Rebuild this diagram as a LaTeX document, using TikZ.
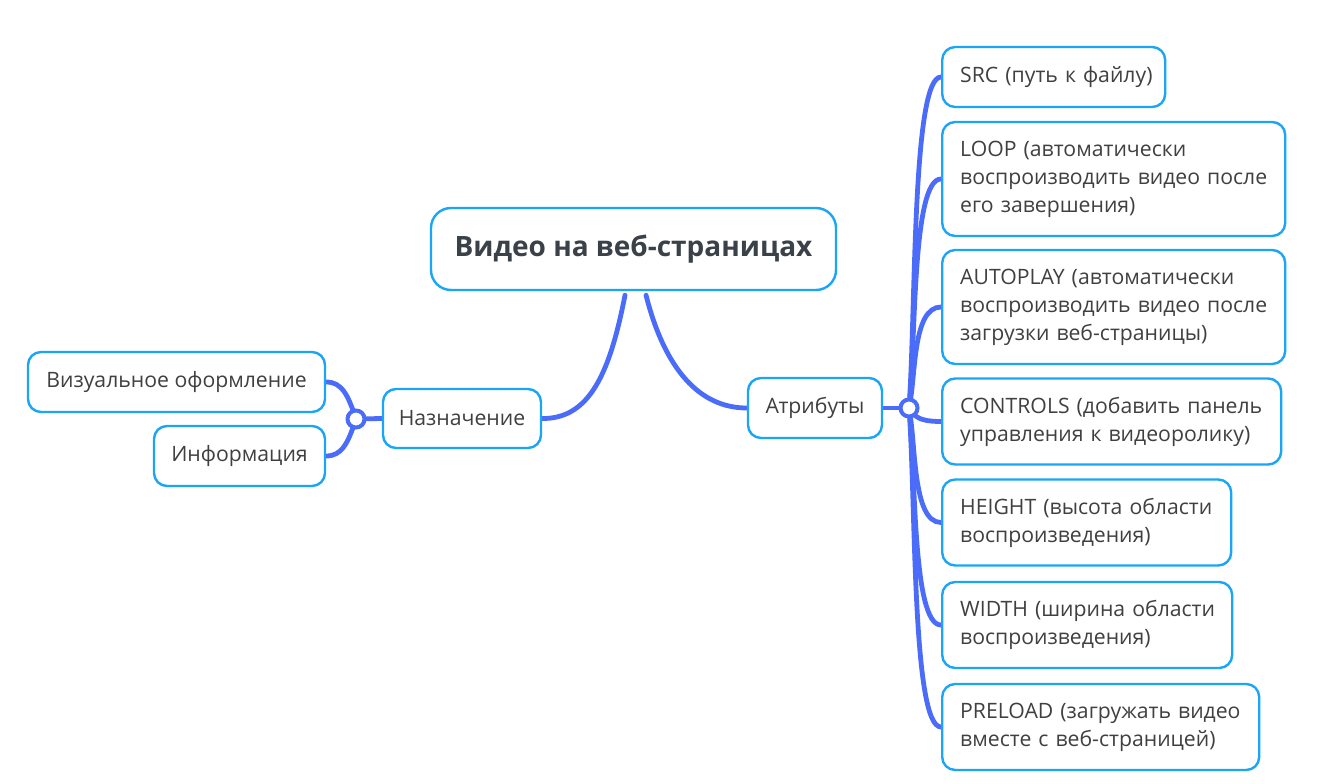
\documentclass[tikz,border=0pt]{standalone}
\usepackage{fontspec}
\setmainfont{Open Sans}
\usetikzlibrary{backgrounds}
\definecolor{boxc}{HTML}{1AA6F5}
\definecolor{linec}{HTML}{4A6CF8}
\definecolor{txt}{HTML}{404040}
\definecolor{ttl}{HTML}{3B4149}
\tikzset{
  box/.style={draw=boxc, line width=2.4pt, rounded corners=13pt, fill=white, text=txt,
    font=\fontsize{21.2}{28}\selectfont, inner xsep=0pt, inner ysep=0pt},
  leaf/.style={box, anchor=west, align=left, inner xsep=18pt, text width=#1},
  conn/.style={draw=linec, line width=4.8pt, line cap=round},
  hub/.style={circle, draw=linec, line width=4pt, fill=white, minimum size=17pt, inner sep=0pt}
}
\begin{document}
\begin{tikzpicture}[x=1pt,y=-1pt]
\useasboundingbox (0,0) rectangle (1330,784);
\node[box, minimum width=405pt, minimum height=82pt, rounded corners=20pt, text=ttl,
  font=\fontsize{28}{34}\selectfont\bfseries] (root) at (633.5,249) {Видео на веб-страницах};
\node[box, minimum width=158pt, minimum height=59pt] (naz) at (462,418.5) {Назначение};
\node[box, minimum width=134pt, minimum height=60pt] (attr) at (815,408) {Атрибуты};
\node[box, minimum width=297pt, minimum height=60pt] (vis) at (176.5,382) {Визуальное оформление};
\node[box, minimum width=171pt, minimum height=60pt] (inf) at (239.5,456) {Информация};
\node[hub] (hl) at (356,419) {};
\node[hub] (hr) at (909,408) {};
\node[leaf=187pt, minimum height=60pt] (src) at (941,77) {\mbox{SRC (путь к файлу)}};
\node[leaf=307pt, minimum height=114pt] (loop) at (941,179) {\mbox{LOOP (автоматически}\\\mbox{воспроизводить видео после}\\\mbox{его завершения)}};
\node[leaf=307pt, minimum height=114pt] (auto) at (941,307) {\mbox{AUTOPLAY (автоматически}\\\mbox{воспроизводить видео после}\\\mbox{загрузки веб-страницы)}};
\node[leaf=303pt, minimum height=86pt] (ctrl) at (941,421.5) {\mbox{CONTROLS (добавить панель}\\\mbox{управления к видеоролику)}};
\node[leaf=253pt, minimum height=86pt] (hgt) at (941,522.5) {\mbox{HEIGHT (высота области}\\\mbox{воспроизведения)}};
\node[leaf=254pt, minimum height=86pt] (wdt) at (941,625) {\mbox{WIDTH (ширина области}\\\mbox{воспроизведения)}};
\node[leaf=281pt, minimum height=86pt] (pre) at (941,727) {\mbox{PRELOAD (загружать видео}\\\mbox{вместе с веб-страницей)}};
\begin{scope}[on background layer]
\draw[conn] ([xshift=-8.5pt,yshift=-4pt]root.south) .. controls (610,372) and (590,419) .. (naz.east);
\draw[conn] ([xshift=12.5pt,yshift=-4pt]root.south) .. controls (665,370) and (700,408) .. (attr.west);
\draw[conn] (naz.west) -- (hl.center);
\draw[conn] (hl.center) .. controls (348,395) and (342,382) .. (vis.east);
\draw[conn] (hl.center) .. controls (348,443) and (342,456) .. (inf.east);
\draw[conn] (attr.east) -- (hr.center);
\draw[conn] (hr.center) .. controls (916,308.7) and (912,77) .. (src.west);
\draw[conn] (hr.center) .. controls (916,339.3) and (912,179) .. (loop.west);
\draw[conn] (hr.center) .. controls (916,377.7) and (912,307) .. (auto.west);
\draw[conn] (hr.center) .. controls (914,412) and (912,421.5) .. (ctrl.west);
\draw[conn] (hr.center) .. controls (916,442.4) and (912,522.5) .. (hgt.west);
\draw[conn] (hr.center) .. controls (916,473) and (912,625) .. (wdt.west);
\draw[conn] (hr.center) .. controls (916,503.7) and (912,727) .. (pre.west);
\end{scope}
\end{tikzpicture}
\end{document}
